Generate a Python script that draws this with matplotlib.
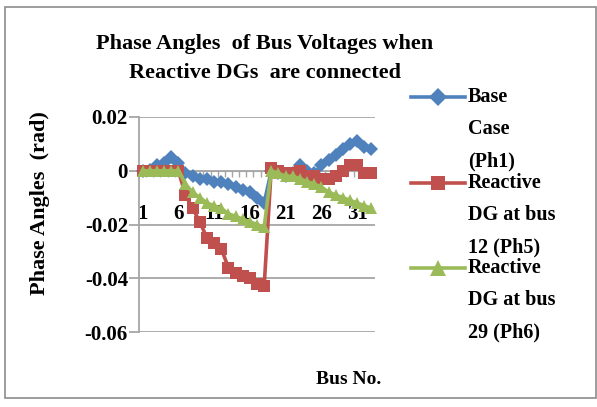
import numpy as np
import matplotlib
matplotlib.use("Agg")
import matplotlib.pyplot as plt
from matplotlib.lines import Line2D
from matplotlib.patches import Rectangle

# bus voltage phase angles (rad)
buses = list(range(1, 34))
base_case = [0.0, 0.0003, 0.002, 0.003, 0.005, 0.003, -0.001, -0.002, -0.003, -0.003,
             -0.004, -0.004, -0.005, -0.006, -0.007, -0.008, -0.010, -0.012,
             0.0, -0.001, -0.002, -0.001, 0.002, 0.0, -0.001, 0.002, 0.004, 0.006,
             0.008, 0.010, 0.011, 0.009, 0.008]
dg_bus12 = [0.0, 0.0, 0.0, 0.0, 0.0, 0.0, -0.009, -0.014, -0.019, -0.025,
            -0.027, -0.029, -0.036, -0.038, -0.039, -0.040, -0.042, -0.043,
            0.001, 0.0, -0.001, -0.001, 0.0, -0.002, -0.002, -0.003, -0.003, -0.002,
            0.0, 0.002, 0.002, -0.001, -0.001]
dg_bus29 = [0.0, 0.0, 0.0, 0.0, 0.0, 0.0, -0.005, -0.008, -0.010, -0.012,
            -0.013, -0.014, -0.016, -0.017, -0.018, -0.019, -0.020, -0.021,
            0.0, -0.001, -0.002, -0.002, -0.003, -0.004, -0.005, -0.006, -0.008, -0.009,
            -0.010, -0.011, -0.012, -0.013, -0.014]
series_names = ["Base\nCase\n(Ph1)", "Reactive\nDG at bus\n12 (Ph5)", "Reactive\nDG at bus\n29 (Ph6)"]
label_buses = [1, 6, 11, 16, 21, 26, 31]
yticks = [0.02, 0, -0.02, -0.04, -0.06]

colors = ["#4F81BD", "#C0504D", "#9BBB59"]
markers = ["D", "s", "^"]
msizes = [7, 8, 9]

plt.rcParams["font.family"] = ["Liberation Serif", "DejaVu Serif"]
plt.rcParams["font.weight"] = "bold"

fig = plt.figure(figsize=(5.97, 4.07), dpi=100)
W, H = 597, 407

def fx(px):
    return px / W

def fy(py):
    return 1 - py / H

ax = fig.add_axes([fx(139), fy(332), fx(375) - fx(139), fy(117) - fy(332)])

for vals, c, m, ms in zip([base_case, dg_bus12, dg_bus29], colors, markers, msizes):
    ax.plot(buses, vals, color=c, marker=m, markersize=ms, linewidth=2.6,
            markeredgewidth=0, clip_on=False, zorder=3)

ax.set_xlim(0.5, 33.5)
ax.set_ylim(-0.06, 0.02)

# y axis
ax.set_yticks(yticks)
ax.set_yticklabels(["0.02", "0", "-0.02", "-0.04", "-0.06"], fontsize=15, fontweight="bold")
ax.yaxis.grid(True, color="#a6a6a6", linewidth=1.3)
ax.tick_params(axis="y", direction="out", length=7, color="#a6a6a6", width=1.3, pad=1)

# x axis sits on zero, ticks between categories, labels further down
ax.spines["bottom"].set_position(("data", 0))
ax.spines["bottom"].set_color("#a6a6a6")
ax.spines["left"].set_color("#a6a6a6")
ax.spines["left"].set_linewidth(1.3)
ax.spines["top"].set_visible(False)
ax.spines["right"].set_visible(False)
ax.set_xticks(np.arange(0.5, 34, 1))
ax.set_xticklabels([])
ax.tick_params(axis="x", which="major", direction="out", length=4, color="#a6a6a6", width=1)
ax.set_xticks(label_buses, minor=True)
ax.set_xticklabels([str(b) for b in label_buses], minor=True, fontsize=15, fontweight="bold")
ax.tick_params(axis="x", which="minor", length=0, pad=24)
ax.set_axisbelow(True)

# title, axis titles
fig.text(fx(265), fy(44), "Phase Angles  of Bus Voltages when", ha="center", va="center",
         fontsize=16, fontweight="bold")
fig.text(fx(265), fy(73), "Reactive DGs  are connected", ha="center", va="center",
         fontsize=16, fontweight="bold")
fig.text(fx(40), fy(203), "Phase Angles  (rad)", rotation=90, ha="center", va="center",
         fontsize=16, fontweight="bold")
fig.text(fx(349), fy(380), "Bus No.", ha="center", va="center", fontsize=14, fontweight="bold")

# legend, each entry wrapped over three lines
leg_top = [97, 183, 268]
for name, c, m, ms, y0 in zip(series_names, colors, markers, msizes, leg_top):
    fig.add_artist(Line2D([fx(411), fx(465)], [fy(y0), fy(y0)], color=c, linewidth=2.6))
    fig.add_artist(Line2D([fx(438)], [fy(y0)], color=c, marker=m, markersize=ms + 2,
                          markeredgewidth=0))
    for i, line in enumerate(name.split("\n")):
        fig.text(fx(468), fy(y0 + i * 32), line, ha="left", va="center",
                 fontsize=14.5, fontweight="bold")

# chart border
fig.add_artist(Rectangle((fx(5), fy(398)), fx(596) - fx(5), fy(7) - fy(398),
                         fill=False, edgecolor="#8c8c8c", linewidth=1.2))

fig.savefig("out.png", dpi=100)
